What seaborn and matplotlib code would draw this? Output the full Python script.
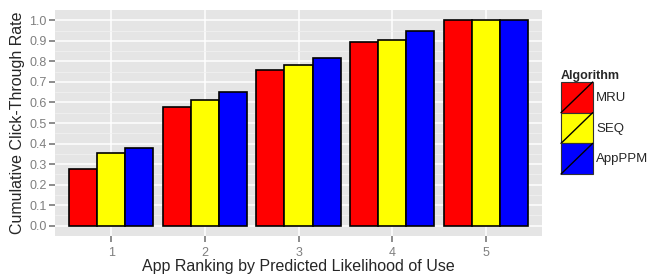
import pandas as pd
import matplotlib
matplotlib.use("Agg")
import matplotlib.pyplot as plt
import seaborn as sns
from matplotlib.patches import Patch, Rectangle
from matplotlib.lines import Line2D
from matplotlib.legend_handler import HandlerPatch

ranks = ["1", "2", "3", "4", "5"]
algorithms = ["MRU", "SEQ", "AppPPM"]
mru = [0.275, 0.576, 0.758, 0.895, 1.0]
seq = [0.353, 0.614, 0.782, 0.902, 1.0]
appppm = [0.378, 0.649, 0.818, 0.948, 1.0]
colors = ["#ff0000", "#ffff00", "#0000ff"]

df = pd.DataFrame({
    "rank": ranks * 3,
    "Algorithm": ["MRU"] * 5 + ["SEQ"] * 5 + ["AppPPM"] * 5,
    "rate": mru + seq + appppm,
})

sns.set_theme(style="darkgrid")
plt.rcParams["font.family"] = ["Liberation Sans", "DejaVu Sans"]

fig = plt.figure(figsize=(6.5, 2.74), dpi=100)
ax = fig.add_axes([55 / 650, 38 / 274, 487 / 650, 226 / 274])
ax.set_facecolor("#e5e5e5")

sns.barplot(data=df, x="rank", y="rate", hue="Algorithm", hue_order=algorithms,
            palette=colors, width=0.9, gap=0, edgecolor="black", linewidth=1.2,
            saturation=1, errorbar=None, ax=ax, legend=False)

ax.set_xlim(-0.6, 4.6)
ax.set_ylim(-0.05, 1.05)
ax.set_yticks([i / 10 for i in range(11)])
ax.set_yticklabels([f"{i / 10:.1f}" for i in range(11)])
ax.set_yticks([i / 20 for i in range(1, 21, 2)], minor=True)
ax.grid(True, which="major", color="white", linewidth=1.1)
ax.grid(True, which="minor", axis="y", color="#f2f2f2", linewidth=0.5)
ax.set_axisbelow(True)
for s in ax.spines.values():
    s.set_visible(False)
ax.tick_params(which="major", length=4, color="#7f7f7f", labelcolor="#7f7f7f",
               labelsize=9, pad=2, left=True, bottom=True)
ax.tick_params(axis="x", pad=4)
ax.tick_params(which="minor", length=0)
ax.set_xlabel("App Ranking by Predicted Likelihood of Use", fontsize=11.5, labelpad=0)
ax.set_ylabel("Cumulative Click-Through Rate", fontsize=11.5, labelpad=3)


class SlashHandler(HandlerPatch):
    def create_artists(self, legend, orig_handle, xdescent, ydescent, width,
                       height, fontsize, trans):
        r = Rectangle((-xdescent, -ydescent), width, height,
                      facecolor=orig_handle.get_facecolor(), edgecolor="#333333",
                      linewidth=0.8, transform=trans)
        l = Line2D([-xdescent, -xdescent + width], [-ydescent, -ydescent + height],
                   color="black", linewidth=1.0, transform=trans)
        return [r, l]


handles = [Patch(facecolor=c) for c in colors]
leg = fig.legend(handles, algorithms, title="Algorithm", loc="upper left",
                 bbox_to_anchor=(561 / 650, 1 - 70 / 274), frameon=False,
                 handler_map={Patch: SlashHandler()}, handlelength=2.4,
                 handleheight=3.2, handletextpad=0.25, labelspacing=0,
                 borderpad=0, borderaxespad=0, fontsize=9.5, title_fontsize=9)
leg.get_title().set_fontweight("bold")
leg._legend_box.align = "left"

fig.savefig("out.png", dpi=100)
